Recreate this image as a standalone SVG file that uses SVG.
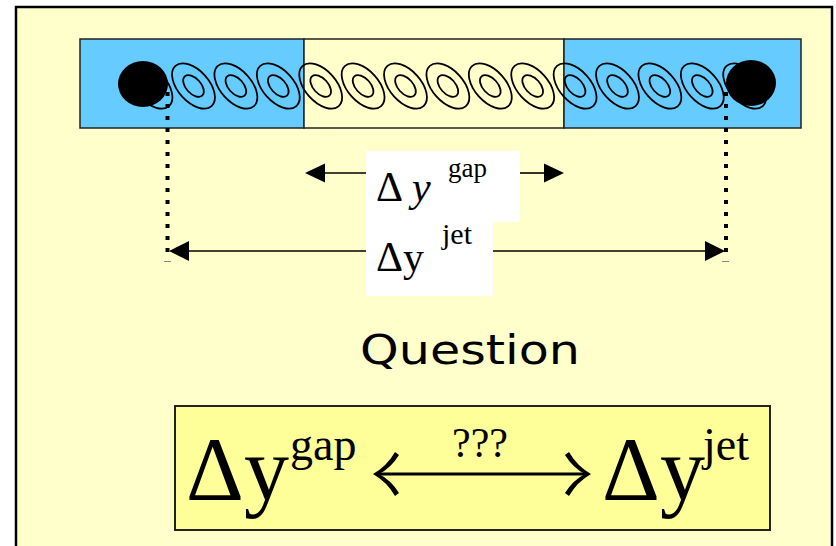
<svg xmlns="http://www.w3.org/2000/svg" xmlns:xlink="http://www.w3.org/1999/xlink" width="836" height="546" viewBox="0 0 836 546">
<style>
.serif{font-family:"Liberation Serif","Times New Roman",serif;fill:#000}
.ring{fill:none;stroke:#000;stroke-width:1.8}
.conn{stroke:#000;stroke-width:1.6;fill:none}
.dots{stroke:#000;stroke-width:4;stroke-dasharray:4 8;fill:none}
.tick{stroke:#888;stroke-width:1}
.head{fill:#000;stroke:none}
</style>
<defs>
<g id="ringShape">
<ellipse class="ring" cx="0" cy="0" rx="27" ry="15.5" transform="rotate(48)"/>
<ellipse class="ring" cx="0" cy="0" rx="13" ry="7.5" transform="rotate(48)"/>
</g>
</defs>
<rect x="0" y="0" width="836" height="546" fill="#ffffff"/>
<rect id="frame" x="16" y="7" width="816" height="560" fill="#FFFFCC" stroke="#000" stroke-width="2.5"/>
<g id="bar">
<rect x="80" y="39" width="224" height="89" fill="#66CCFF" stroke="#222" stroke-width="1.5"/>
<rect x="304" y="39" width="260" height="89" fill="#FFFFCC" stroke="#222" stroke-width="1.5"/>
<rect x="564" y="39" width="237" height="89" fill="#66CCFF" stroke="#222" stroke-width="1.5"/>
</g>
<g id="rings">
<use xlink:href="#ringShape" x="151" y="86"/>
<use xlink:href="#ringShape" x="193.5" y="86"/>
<use xlink:href="#ringShape" x="235.9" y="86"/>
<use xlink:href="#ringShape" x="278.3" y="86"/>
<use xlink:href="#ringShape" x="320.7" y="86"/>
<use xlink:href="#ringShape" x="363.1" y="86"/>
<use xlink:href="#ringShape" x="405.5" y="86"/>
<use xlink:href="#ringShape" x="447.9" y="86"/>
<use xlink:href="#ringShape" x="490.3" y="86"/>
<use xlink:href="#ringShape" x="532.7" y="86"/>
<use xlink:href="#ringShape" x="575.1" y="86"/>
<use xlink:href="#ringShape" x="617.5" y="86"/>
<use xlink:href="#ringShape" x="659.9" y="86"/>
<use xlink:href="#ringShape" x="702.3" y="86"/>
<use xlink:href="#ringShape" x="744.7" y="86"/>
</g>
<g id="jets">
<ellipse cx="143" cy="84" rx="25" ry="23" fill="#000"/>
<ellipse cx="751" cy="83" rx="25" ry="23" fill="#000"/>
</g>
<g id="connectors">
<line class="dots" x1="167.5" y1="92" x2="167.5" y2="258"/>
<line class="dots" x1="726" y1="92" x2="726" y2="258"/>
<line class="tick" x1="164" y1="261.5" x2="171" y2="261.5"/>
<line class="tick" x1="722" y1="261.5" x2="729" y2="261.5"/>
<line class="conn" x1="322" y1="173" x2="366" y2="173"/>
<path class="head" d="M305,173 L325,163.5 L325,182.5 Z"/>
<line class="conn" x1="520" y1="173" x2="547" y2="173"/>
<path class="head" d="M564,173 L544,163.5 L544,182.5 Z"/>
<line class="conn" x1="186" y1="251" x2="708" y2="251"/>
<path class="head" d="M169,251 L189,241 L189,261 Z"/>
<path class="head" d="M725,251 L705,241 L705,261 Z"/>
</g>
<g id="gapLabel">
<rect x="366" y="151" width="154" height="71" fill="#fff"/>
<text class="serif" x="376" y="201" font-size="42">Δ</text>
<text class="serif" x="412" y="201" font-size="42" font-style="italic">y</text>
<text class="serif" x="448" y="177" font-size="27">gap</text>
</g>
<g id="jetLabel">
<rect x="366" y="222" width="127" height="74" fill="#fff"/>
<text class="serif" x="376" y="271" font-size="42">Δy</text>
<text class="serif" x="442" y="244" font-size="30">jet</text>
</g>
<g id="question">
<text x="360" y="364" font-family="DejaVu Sans, sans-serif" font-size="41" textLength="220" lengthAdjust="spacingAndGlyphs">Question</text>
</g>
<g id="relation">
<rect x="175" y="406" width="595" height="124" fill="#FFFF99" stroke="#222" stroke-width="2"/>
<text class="serif" x="186" y="500" font-size="90">Δy</text>
<text class="serif" x="290" y="460" font-size="46">gap</text>
<text class="serif" x="480" y="457" font-size="42" text-anchor="middle">???</text>
<line x1="378" y1="474" x2="586" y2="474" stroke="#000" stroke-width="3"/>
<path class="head" d="M373,474 Q387,466 395,452 L399,455 Q391,468 379,474 Q391,480 399,493 L395,496 Q387,482 373,474 Z"/>
<path class="head" d="M591,474 Q577,466 569,452 L565,455 Q573,468 585,474 Q573,480 565,493 L569,496 Q577,482 591,474 Z"/>
<text class="serif" x="602" y="500" font-size="90">Δy</text>
<text class="serif" x="703" y="460" font-size="46">jet</text>
</g>
</svg>
